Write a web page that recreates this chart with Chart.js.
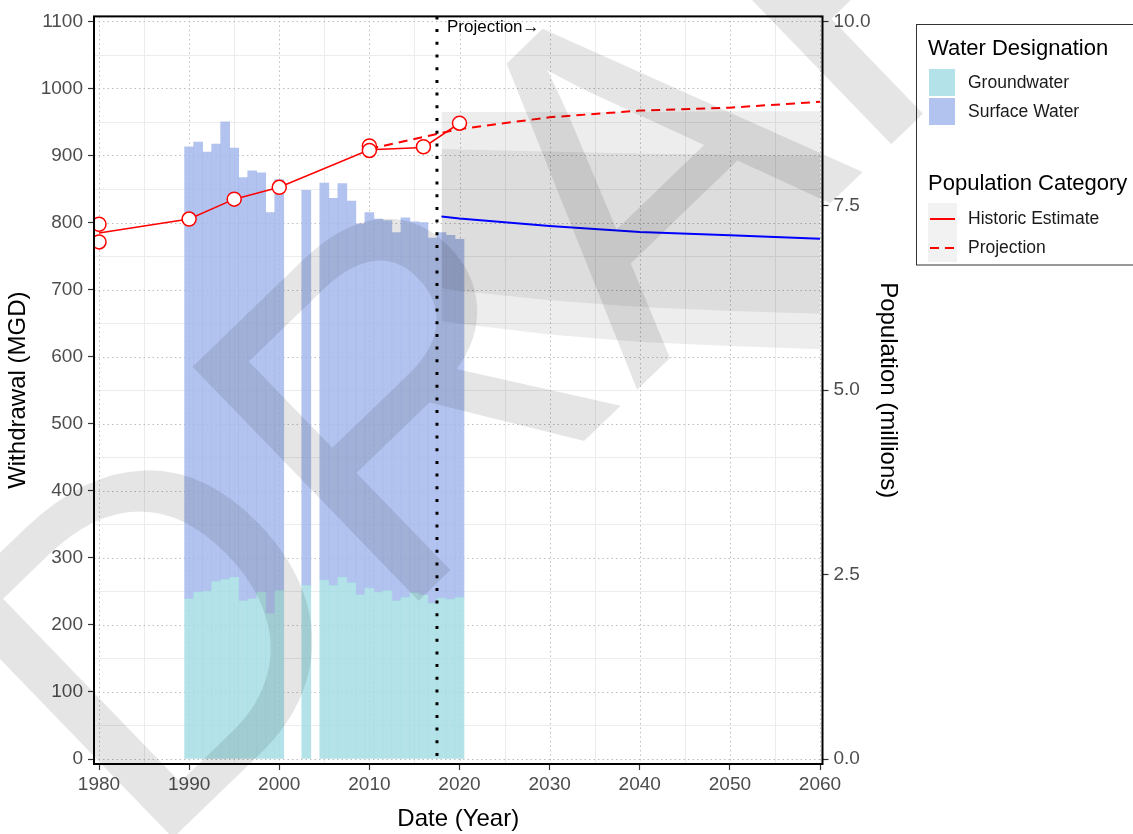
<!DOCTYPE html>
<html>
<head>
<meta charset="utf-8">
<script src="https://cdn.jsdelivr.net/npm/chart.js@4.4.1/dist/chart.umd.min.js"></script>
<style>
  html, body { margin: 0; padding: 0; background: #fff; }
  #wrap { width: 1133px; height: 834px; }
</style>
</head>
<body>
<div id="wrap"><canvas id="chart" width="1133" height="834"></canvas></div>
<script>
// Withdrawal by year (MGD)
const years = [1990, 1991, 1992, 1993, 1994, 1995, 1996, 1997, 1998, 1999, 2000, 2003,
  2005, 2006, 2007, 2008, 2009, 2010, 2011, 2012, 2013, 2014, 2015, 2016, 2017, 2018, 2019, 2020];
const groundwater = [239, 249, 250, 265, 268, 271, 236, 239, 249, 217, 251, 259,
  267, 259, 271, 263, 245, 255, 249, 251, 236, 241, 248, 245, 232, 240, 238, 241];
const surfaceWater = [674, 671, 655, 652, 682, 640, 631, 638, 625, 598, 613, 589,
  592, 577, 587, 569, 553, 560, 556, 552, 549, 566, 553, 555, 545, 545, 543, 534];

// Population (millions)
const popYears = [1980, 1990, 1995, 2000, 2010, 2016, 2020];
const popHistoric = [7.13, 7.32, 7.59, 7.75, 8.26, 8.29, 8.62];
const popPointYears = [1980, 1980, 1990, 1995, 2000, 2010, 2010, 2016, 2020];
const popPoints = [7.25, 7.01, 7.32, 7.59, 7.75, 8.31, 8.25, 8.30, 8.62];
const projYears = [2010, 2020, 2030, 2040, 2050, 2060];
const popProjection = [8.27, 8.54, 8.70, 8.79, 8.83, 8.91];

// Withdrawal projection (MGD)
const fcYears = [2018, 2020, 2030, 2040, 2050, 2060];
const fcMid = [809, 806, 795, 786, 781, 776];
const fcInnerHi = [910, 909, 906, 903, 901, 900];
const fcInnerLo = [702, 698, 684, 674, 668, 664];
const fcOuterHi = [965, 965, 965, 965, 966, 966];
const fcOuterLo = [653, 649, 633, 622, 616, 611];

// Axis ticks
const xTicks = [1980, 1990, 2000, 2010, 2020, 2030, 2040, 2050, 2060];
const xMinor = [1985, 1995, 2005, 2015, 2025, 2035, 2045, 2055];
const yTicks = [0, 100, 200, 300, 400, 500, 600, 700, 800, 900, 1000, 1100];
const yMinor = [50, 150, 250, 350, 450, 550, 650, 750, 850, 950, 1050];
const y2Ticks = [0, 2.5, 5, 7.5, 10];
const projStart = 2017.5;

const FONT = '"Liberation Sans", Arial, Helvetica, sans-serif';
const GW_COLOR = 'rgba(166,222,228,0.85)';
const SW_COLOR = 'rgba(166,184,236,0.85)';
const RIBBON = 'rgba(0,0,0,0.07)';
const POP_SCALE = 110; // MGD per million people on the secondary axis

Chart.defaults.font.family = FONT;

const pts = (xs, ys) => xs.map((x, i) => ({ x: x, y: ys[i] }));

// dotted ggplot-style grid
const gridPlugin = {
  id: 'ggGrid',
  beforeDatasetsDraw(chart) {
    const { ctx, chartArea: a, scales: { x, y } } = chart;
    ctx.save();
    ctx.lineWidth = 1;
    ctx.strokeStyle = '#ececec';
    ctx.setLineDash([]);
    xMinor.forEach(v => {
      const p = Math.round(x.getPixelForValue(v)) + 0.5;
      ctx.beginPath(); ctx.moveTo(p, a.top); ctx.lineTo(p, a.bottom); ctx.stroke();
    });
    yMinor.forEach(v => {
      const p = Math.round(y.getPixelForValue(v)) + 0.5;
      ctx.beginPath(); ctx.moveTo(a.left, p); ctx.lineTo(a.right, p); ctx.stroke();
    });
    ctx.strokeStyle = '#bdbdbd';
    ctx.setLineDash([1.5, 3]);
    xTicks.forEach(v => {
      const p = Math.round(x.getPixelForValue(v)) + 0.5;
      ctx.beginPath(); ctx.moveTo(p, a.top); ctx.lineTo(p, a.bottom); ctx.stroke();
    });
    yTicks.forEach(v => {
      const p = Math.round(y.getPixelForValue(v)) + 0.5;
      ctx.beginPath(); ctx.moveTo(a.left, p); ctx.lineTo(a.right, p); ctx.stroke();
    });
    ctx.restore();
  }
};

const overlayPlugin = {
  id: 'overlay',
  afterDatasetsDraw(chart) {
    const { ctx, chartArea: a, scales: { x } } = chart;
    ctx.save();
    // projection divider
    const px = x.getPixelForValue(projStart);
    ctx.strokeStyle = '#000';
    ctx.lineWidth = 3;
    ctx.setLineDash([3, 9.7]);
    ctx.beginPath(); ctx.moveTo(px, a.top); ctx.lineTo(px, a.bottom); ctx.stroke();
    ctx.setLineDash([]);
    ctx.fillStyle = '#000';
    ctx.font = '17px ' + FONT;
    ctx.textBaseline = 'alphabetic';
    ctx.fillText('Projection\u2192', px + 10, 32);
    // panel border
    ctx.lineWidth = 2;
    ctx.strokeRect(a.left, a.top, a.right - a.left, a.bottom - a.top);
    ctx.restore();
  },
  afterDraw(chart) {
    const ctx = chart.ctx;
    ctx.save();
    // legend
    ctx.fillStyle = '#fff';
    ctx.fillRect(916, 24, 240, 241);
    ctx.strokeStyle = '#333';
    ctx.lineWidth = 1;
    ctx.strokeRect(916.5, 24.5, 240, 240.5);
    ctx.fillStyle = '#000';
    ctx.font = '22px ' + FONT;
    ctx.textBaseline = 'alphabetic';
    ctx.fillText('Water Designation', 928, 55);
    ctx.fillText('Population Category', 928, 190);
    ctx.fillStyle = GW_COLOR;
    ctx.fillRect(929, 69, 26, 27);
    ctx.fillStyle = SW_COLOR;
    ctx.fillRect(929, 98, 26, 27);
    ctx.fillStyle = '#f2f2f2';
    ctx.fillRect(928, 203, 29, 59);
    ctx.strokeStyle = '#ff0000';
    ctx.lineWidth = 2;
    ctx.beginPath(); ctx.moveTo(930, 219); ctx.lineTo(955, 219); ctx.stroke();
    ctx.setLineDash([9, 6]);
    ctx.beginPath(); ctx.moveTo(930, 248); ctx.lineTo(955, 248); ctx.stroke();
    ctx.setLineDash([]);
    ctx.fillStyle = '#1a1a1a';
    ctx.font = '17.5px ' + FONT;
    ctx.textBaseline = 'middle';
    ctx.fillText('Groundwater', 968, 83);
    ctx.fillText('Surface Water', 968, 112);
    ctx.fillText('Historic Estimate', 968, 219);
    ctx.fillText('Projection', 968, 248);
    // watermark
    ctx.translate(145, 865);
    ctx.rotate(-44 * Math.PI / 180);
    ctx.font = '473px ' + FONT;
    ctx.textBaseline = 'alphabetic';
    ctx.fillStyle = 'rgba(0,0,0,0.1)';
    ctx.fillText('DRAFT', 0, 0);
    ctx.restore();
  }
};

const tickFont = { size: 19 };
const titleFont = { size: 24 };

new Chart(document.getElementById('chart'), {
  type: 'bar',
  data: {
    datasets: [
      {
        type: 'line', label: 'Historic Estimate', data: pts(popYears, popHistoric), yAxisID: 'y2',
        borderColor: '#ff0000', borderWidth: 1.6, pointRadius: 0, fill: false, order: 2
      },
      {
        type: 'line', label: 'Historic points', data: pts(popPointYears, popPoints), yAxisID: 'y2',
        showLine: false, pointRadius: 7, pointBorderWidth: 1.5, pointBorderColor: '#ff0000',
        pointBackgroundColor: '#ffffff', order: 1
      },
      {
        type: 'line', label: 'Projection', data: pts(projYears, popProjection), yAxisID: 'y2',
        borderColor: '#ff0000', borderWidth: 2, borderDash: [9, 6], pointRadius: 0, fill: false, order: 3
      },
      {
        type: 'line', label: 'Withdrawal projection', data: pts(fcYears, fcMid), yAxisID: 'y',
        borderColor: '#0000ff', borderWidth: 2, pointRadius: 0, fill: false, order: 5
      },
      {
        type: 'line', label: 'inner hi', data: pts(fcYears, fcInnerHi), yAxisID: 'y',
        borderWidth: 0, pointRadius: 0, fill: '+1', backgroundColor: RIBBON, order: 7
      },
      {
        type: 'line', label: 'inner lo', data: pts(fcYears, fcInnerLo), yAxisID: 'y',
        borderWidth: 0, pointRadius: 0, fill: false, order: 7
      },
      {
        type: 'line', label: 'outer hi', data: pts(fcYears, fcOuterHi), yAxisID: 'y',
        borderWidth: 0, pointRadius: 0, fill: '+1', backgroundColor: RIBBON, order: 8
      },
      {
        type: 'line', label: 'outer lo', data: pts(fcYears, fcOuterLo), yAxisID: 'y',
        borderWidth: 0, pointRadius: 0, fill: false, order: 8
      },
      {
        label: 'Groundwater', yAxisID: 'y', order: 10, grouped: false,
        data: years.map((yr, i) => ({ x: yr, y: groundwater[i] })),
        backgroundColor: GW_COLOR, borderWidth: 0, barPercentage: 1, categoryPercentage: 1
      },
      {
        label: 'Surface Water', yAxisID: 'y', order: 10, grouped: false,
        data: years.map((yr, i) => ({ x: yr, y: [groundwater[i], groundwater[i] + surfaceWater[i]] })),
        backgroundColor: SW_COLOR, borderWidth: 0, barPercentage: 1, categoryPercentage: 1
      }
    ]
  },
  options: {
    responsive: false,
    animation: false,
    layout: { padding: { top: 14, right: 222.5, left: 0, bottom: 0 } },
    plugins: { legend: { display: false }, tooltip: { enabled: false } },
    scales: {
      x: {
        type: 'linear', min: 1979.445, max: 2060.277, offset: false,
        afterBuildTicks: s => { s.ticks = xTicks.map(v => ({ value: v })); },
        afterFit: s => { s.height = 70; },
        grid: { offset: false, drawOnChartArea: false, tickLength: 6, tickColor: '#333', tickWidth: 1.2 },
        border: { display: false },
        ticks: { color: '#4d4d4d', font: tickFont, padding: 3, maxRotation: 0, autoSkip: false, callback: v => String(v) },
        title: { display: true, text: 'Date (Year)', color: '#000', font: titleFont, padding: { top: 0, bottom: 0 } }
      },
      y: {
        position: 'left', min: -7.43, max: 1107.4,
        afterBuildTicks: s => { s.ticks = yTicks.map(v => ({ value: v })); },
        afterFit: s => { s.width = 94; },
        grid: { drawOnChartArea: false, tickLength: 6, tickColor: '#333', tickWidth: 1.2 },
        border: { display: false },
        ticks: { color: '#4d4d4d', font: tickFont, padding: 5, callback: v => String(v) },
        title: { display: true, text: 'Withdrawal (MGD)', color: '#000', font: titleFont, padding: { top: 4, bottom: 0 } }
      },
      y2: {
        position: 'right', min: -7.43 / POP_SCALE, max: 1107.4 / POP_SCALE,
        afterBuildTicks: s => { s.ticks = y2Ticks.map(v => ({ value: v })); },
        afterFit: s => { s.width = 88; },
        grid: { drawOnChartArea: false, tickLength: 6, tickColor: '#333', tickWidth: 1.2 },
        border: { display: false },
        ticks: { color: '#4d4d4d', font: tickFont, padding: 5, callback: v => v.toFixed(1) },
        title: { display: true, text: 'Population (millions)', color: '#000', font: titleFont, padding: { top: 8, bottom: 0 } }
      }
    }
  },
  plugins: [gridPlugin, overlayPlugin]
});
</script>
</body>
</html>
